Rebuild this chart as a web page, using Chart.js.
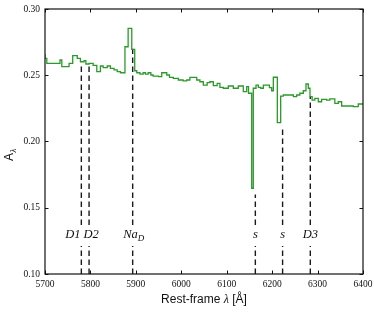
<!DOCTYPE html>
<html><head><meta charset="utf-8">
<script src="https://cdn.jsdelivr.net/npm/chart.js@4.4.0/dist/chart.umd.min.js"></script>
<style>html,body{margin:0;padding:0;background:#fff;}#wrap{width:374px;height:312px;}</style>
</head><body><div id="wrap"><canvas id="c" width="374" height="312"></canvas></div>
<script>
// Spectrum: start wavelength of each step and its value
const binStart = [5700,5704,5733,5737,5753,5761,5771,5778,5786,5790,5797,5806,5814,5822,5828,5837,5844,5852,5859,5866,5876,
  5883,5891,5897.5,5902,5909,5916,5921,5927,5933,5938,5950,5957,5968,5974,5982.5,5993.5,6004,6012,6019,6034,6041,6048.5,
  6057,6063,6070.5,6079,6085,6092.5,6103.5,6114.5,6125.5,6136.5,6144,6148,6155,6158.5,6164.5,6169.6,6175,6180.6,6194,6199,
  6202.6,6211.4,6218.8,6224.6,6246.7,6254,6261,6268.6,6274.5,6279.6,6283.3,6288,6294,6301.6,6309,6320,6327,6338,6345.6,6353,
  6378.6,6389.6,6397];
const absorb = [0.2658,0.2628,0.2590,0.2615,0.2565,0.2590,0.2648,0.2628,0.2602,0.2610,0.2585,0.2590,0.2575,0.2527,0.2570,0.2557,0.2570,0.2552,0.2540,0.2527,0.2519,
  0.2715,0.2854,0.2696,0.2534,0.2519,0.2509,0.2519,0.2509,0.2519,0.2502,0.2494,0.2489,0.2519,0.2502,0.2484,0.2477,0.2464,0.2457,0.2464,0.2484,0.2464,0.2451,
  0.2426,0.2444,0.2451,0.2421,0.2439,0.2409,0.2402,0.2419,0.2402,0.2419,0.2376,0.2414,0.2364,0.1647,0.2402,0.2426,0.2409,0.2402,0.2426,0.2406,
  0.2383,0.2485,0.2142,0.2343,0.2351,0.2338,0.2351,0.2364,0.2383,0.2434,0.2402,0.2338,0.2313,0.2326,0.2300,0.2318,0.2313,0.2321,0.2288,0.2300,
  0.2268,0.2263,0.2283];
// Marked features
const featureWl = [5780, 5797, 5893, 6163, 6223, 6284];
const featureTop = [0.259, 0.259, 0.270, 0.160, 0.209, 0.234];
const featureLabels = ['D1', 'D2', 'Na_D', 's', 's', 'D3'];
// Axis ticks
const xTicks = [5700, 5800, 5900, 6000, 6100, 6200, 6300, 6400];
const yTicks = [0.10, 0.15, 0.20, 0.25, 0.30];
const xTitle = ['Rest-frame ', 'λ', ' [Å]'];
const yTitle = ['A', 'λ'];

const GAP_LO = 0.1211, GAP_HI = 0.137;
const labelDx = [-8.5, 2, 1, 0, 0, 0];
const SERIF = '"Liberation Serif", "DejaVu Serif", serif';
const SANS = '"Liberation Sans", Arial, sans-serif';

const specPts = binStart.map((x, i) => ({x: x, y: absorb[i]}));
specPts.push({x: xTicks[xTicks.length - 1], y: absorb[absorb.length - 1]});

const datasets = [{
  data: specPts, stepped: 'after', borderColor: '#2b9a2b', borderWidth: 1.3,
  pointRadius: 0, fill: false, order: 0
}];
featureWl.forEach((w, i) => {
  datasets.push({
    data: [{x: w, y: yTicks[0]}, {x: w, y: GAP_LO}, {x: w, y: null}, {x: w, y: GAP_HI}, {x: w, y: featureTop[i]}],
    borderColor: '#1a1a1a', borderWidth: 1.4, borderDash: [5.5, 3.5], pointRadius: 0,
    spanGaps: false, fill: false, order: 1
  });
});

const decor = {
  id: 'decor',
  afterDraw(chart) {
    const ctx = chart.ctx, a = chart.chartArea, xs = chart.scales.x, ys = chart.scales.y;
    ctx.save();
    ctx.strokeStyle = '#111'; ctx.lineWidth = 1.2;
    ctx.strokeRect(a.left, a.top, a.right - a.left, a.bottom - a.top);
    ctx.lineWidth = 1;
    const TL = 3.5;
    xTicks.forEach(v => {
      const px = Math.round(xs.getPixelForValue(v)) + 0.5;
      ctx.beginPath(); ctx.moveTo(px, a.bottom); ctx.lineTo(px, a.bottom - TL);
      ctx.moveTo(px, a.top); ctx.lineTo(px, a.top + TL); ctx.stroke();
    });
    yTicks.forEach(v => {
      const py = Math.round(ys.getPixelForValue(v)) + 0.5;
      ctx.beginPath(); ctx.moveTo(a.left, py); ctx.lineTo(a.left + TL, py);
      ctx.moveTo(a.right, py); ctx.lineTo(a.right - TL, py); ctx.stroke();
    });
    ctx.fillStyle = '#111';
    ctx.textBaseline = 'alphabetic';
    const ly = 238;
    featureWl.forEach((w, i) => {
      const cx = xs.getPixelForValue(w) + labelDx[i];
      const lab = featureLabels[i];
      if (lab.indexOf('_') >= 0) {
        const parts = lab.split('_');
        ctx.font = 'italic 12.5px ' + SERIF;
        const w1 = ctx.measureText(parts[0]).width;
        ctx.font = 'italic 9px ' + SERIF;
        const w2 = ctx.measureText(parts[1]).width;
        const x0 = cx - (w1 + w2) / 2;
        ctx.textAlign = 'left';
        ctx.font = 'italic 12.5px ' + SERIF;
        ctx.fillText(parts[0], x0, ly);
        ctx.font = 'italic 9px ' + SERIF;
        ctx.fillText(parts[1], x0 + w1, ly + 3);
      } else {
        ctx.textAlign = 'center';
        ctx.font = 'italic 12.5px ' + SERIF;
        ctx.fillText(lab, cx, ly);
      }
    });
    ctx.textAlign = 'left';
    ctx.font = '12px ' + SANS;
    const t0 = ctx.measureText(xTitle[0]).width, t2 = ctx.measureText(xTitle[2]).width;
    ctx.font = 'italic 12px ' + SERIF;
    const t1 = ctx.measureText(xTitle[1]).width;
    let tx = (a.left + a.right) / 2 - (t0 + t1 + t2) / 2;
    const tyb = 303;
    ctx.font = '12px ' + SANS; ctx.fillText(xTitle[0], tx, tyb); tx += t0;
    ctx.font = 'italic 12px ' + SERIF; ctx.fillText(xTitle[1], tx, tyb); tx += t1;
    ctx.font = '12px ' + SANS; ctx.fillText(xTitle[2], tx, tyb);
    ctx.translate(13, 161);
    ctx.rotate(-Math.PI / 2);
    ctx.font = '12px ' + SANS;
    const wa = ctx.measureText(yTitle[0]).width;
    ctx.fillText(yTitle[0], 0, 0);
    ctx.font = 'italic 8.5px ' + SERIF;
    ctx.fillText(yTitle[1], wa + 0.5, 2.5);
    ctx.restore();
  }
};

new Chart(document.getElementById('c'), {
  type: 'line',
  data: {datasets: datasets},
  options: {
    responsive: false, animation: false, devicePixelRatio: 1,
    layout: {padding: {left: 0, right: 11, top: 9, bottom: 0}},
    plugins: {legend: {display: false}, tooltip: {enabled: false}, title: {display: false}},
    scales: {
      x: {
        type: 'linear', min: xTicks[0], max: xTicks[xTicks.length - 1],
        afterBuildTicks: s => { s.ticks = xTicks.map(v => ({value: v})); },
        afterFit: s => { s.height = 38; s.paddingLeft = 0; s.paddingRight = 0; },
        grid: {display: false, drawTicks: false},
        border: {display: false},
        ticks: {padding: 5, color: '#111', font: {family: SERIF, size: 9.5}, maxRotation: 0,
          callback: v => String(v)}
      },
      y: {
        type: 'linear', min: yTicks[0], max: yTicks[yTicks.length - 1],
        afterBuildTicks: s => { s.ticks = yTicks.map(v => ({value: v})); },
        afterFit: s => { s.width = 45; s.paddingTop = 0; s.paddingBottom = 0; },
        grid: {display: false, drawTicks: false},
        border: {display: false},
        ticks: {padding: 5, color: '#111', font: {family: SERIF, size: 9.5},
          callback: v => Number(v).toFixed(2)}
      }
    }
  },
  plugins: [decor]
});
</script>
</body></html>
